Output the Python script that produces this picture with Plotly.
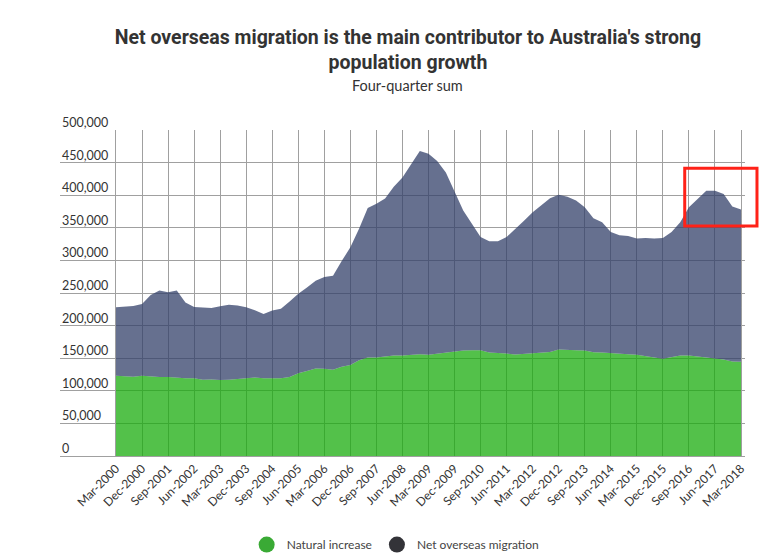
import pandas as pd
import plotly.graph_objects as go

# quarterly categories, Mar-2000 .. Mar-2018
QUARTERS = [d.strftime('%b-%Y') for d in pd.date_range('2000-03-31', '2018-03-31', freq='QE')]
TICK_LABELS = QUARTERS[::3]
Y_TICKS = [0, 50000, 100000, 150000, 200000, 250000, 300000, 350000, 400000, 450000, 500000]

# four-quarter sums, persons
NATURAL_INCREASE = [
    123000, 122500, 121500, 123000, 121500, 121000, 121000, 120000, 119400, 119400,
    116900, 117400, 116400, 116900, 118400, 119400, 120500, 119400, 119400, 119400,
    121000, 127100, 130200, 134300, 133800, 132200, 136800, 139400, 147000, 151100,
    151100, 153100, 154200, 154200, 155100, 156200, 155100, 156700, 159200, 160300,
    161800, 162300, 162300, 158700, 158200, 157200, 155700, 156700, 158200, 158700,
    159700, 163300, 162300, 162300, 161800, 159200, 158700, 158200, 157200, 156200,
    155100, 152600, 151100, 149000, 152000, 154200, 154200, 152600, 150500, 149000,
    148000, 145000, 144500,
]
NET_OVERSEAS_MIGRATION = [
    105000, 106000, 108500, 110000, 125500, 132800, 130300, 133800, 116200, 109100,
    111100, 109600, 113100, 115100, 112600, 108600, 102900, 98400, 103600, 106600,
    116000, 121700, 128200, 134300, 140700, 144100, 162200, 180600, 201600, 229200,
    235900, 242000, 258800, 272900, 292300, 311500, 308500, 295800, 275500, 244000,
    214700, 193900, 173600, 170600, 171100, 178700, 191900, 204100, 215800, 226300,
    235500, 237500, 235500, 229400, 219700, 205600, 200000, 185300, 181300, 181300,
    178300, 181900, 182300, 185500, 191500, 204500, 227300, 241600, 256400, 257900,
    253800, 237600, 233500,
]

GREEN = 'rgba(26, 172, 14, 0.75)'
SLATE = 'rgba(51, 64, 105, 0.75)'
TEXT = '#333333'
GRID = '#a0a0a0'

fig = go.Figure()
fig.add_trace(go.Scatter(
    x=QUARTERS, y=NATURAL_INCREASE, name='Natural increase',
    mode='lines', stackgroup='one', line=dict(width=0, color=GREEN),
    fillcolor=GREEN, showlegend=False,
))
fig.add_trace(go.Scatter(
    x=QUARTERS, y=NET_OVERSEAS_MIGRATION, name='Net overseas migration',
    mode='lines', stackgroup='one', line=dict(width=0, color=SLATE),
    fillcolor=SLATE, showlegend=False,
))
# legend entries drawn as circles
for name, colour in [('Natural increase', '#3aaa35'), ('Net overseas migration', '#333338')]:
    fig.add_trace(go.Scatter(
        x=[None], y=[None], mode='markers', name=name,
        marker=dict(symbol='circle', size=16, color=colour),
    ))

# y labels sit just above their grid lines, inside the left edge
y_labels = [
    dict(text=f'{v:,}', x=0, y=v, xref='paper', yref='y', xanchor='left', yanchor='bottom',
         showarrow=False, yshift=-2, font=dict(family='Lato', size=12.5, color=TEXT))
    for v in Y_TICKS
]

fig.update_layout(
    width=764,
    height=558,
    margin=dict(l=60, r=19, t=130, b=102),
    paper_bgcolor='white',
    plot_bgcolor='white',
    font=dict(family='Lato', size=12, color=TEXT),
    title=dict(
        text="<b>Net overseas migration is the main contributor to Australia's strong<br>population growth</b>",
        font=dict(family='Roboto', size=19.5, color=TEXT),
        x=0.534, xref='container', xanchor='center',
        y=0.922, yref='container', yanchor='top',
    ),
    annotations=y_labels + [dict(
        text='Four-quarter sum', showarrow=False,
        xref='paper', yref='paper', x=0.507, y=1.135, xanchor='center', yanchor='middle',
        font=dict(family='Lato', size=14.5, color=TEXT),
    )],
    shapes=[dict(
        type='rect', xref='paper', yref='paper',
        x0=0.912, x1=1.0175, y0=0.7055, y1=0.883,
        line=dict(color='#ff2218', width=3),
    )],
    legend=dict(
        orientation='h', x=0.49, xanchor='center',
        yref='container', y=0.024, yanchor='middle',
        font=dict(family='Lato', size=12, color='#444444'),
        traceorder='normal',
        itemclick=False,
    ),
    showlegend=True,
)

fig.update_xaxes(
    type='category',
    range=[-6.45, 72.46],
    tickmode='array',
    tickvals=TICK_LABELS,
    ticktext=TICK_LABELS,
    tickangle=-45,
    showgrid=True,
    gridcolor=GRID,
    gridwidth=1,
    showline=True,
    linecolor=GRID,
    ticks='',
    automargin=False,
    tickfont=dict(size=12, color=TEXT),
)
fig.update_yaxes(
    range=[0, 500000],
    tickvals=Y_TICKS,
    showticklabels=False,
    showgrid=True,
    gridcolor=GRID,
    gridwidth=1,
    zeroline=False,
    ticks='',
    automargin=False,
)

# drop the browser's default page margin so the figure sits at the top-left corner
fig.write_html('out.html', config={'displayModeBar': False},
               post_script="document.body.style.margin = '0';")
